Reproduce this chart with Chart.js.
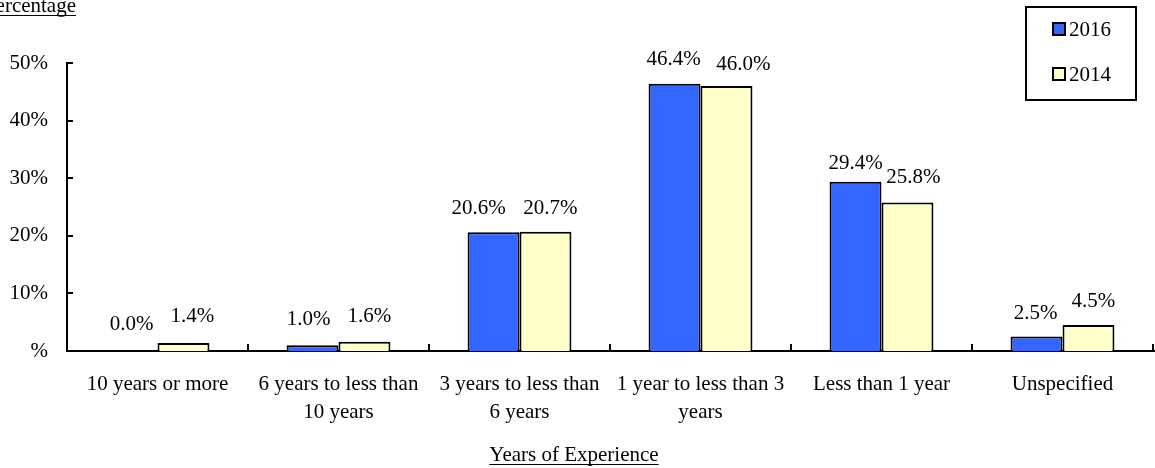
<!DOCTYPE html>
<html lang="en">
<head>
  <meta charset="UTF-8">
  <title>Years of Experience</title>
  <script src="https://cdn.jsdelivr.net/npm/chart.js@4.4.0/dist/chart.umd.min.js"></script>
  <style>
    html, body { margin: 0; padding: 0; background: #fff; }
    .wrap { width: 1155px; height: 468px; position: relative; }
  </style>
</head>
<body>
  <div class="wrap">
    <canvas id="chart" width="1155" height="468"></canvas>
  </div>
  <script>
    // data
    const categories = [
      '10 years or more',
      ['6 years to less than', '10 years'],
      ['3 years to less than', '6 years'],
      ['1 year to less than 3', 'years'],
      'Less than 1 year',
      'Unspecified'
    ];
    const series2016 = [0.0, 1.0, 20.6, 46.4, 29.4, 2.5];
    const series2014 = [1.4, 1.6, 20.7, 46.0, 25.8, 4.5];
    const yTicks = [0, 10, 20, 30, 40, 50];

    const FONT = "'Liberation Serif', 'Times New Roman', serif";
    const SIZE = 21;
    Chart.defaults.font.family = FONT;
    Chart.defaults.font.size = SIZE;
    Chart.defaults.color = '#000';

    // the value labels were hand-nudged in the original, [dx, dy] per bar
    const labelNudge = [
      [[0, -3], [-4, -2], [-15, 0], [-1, -1], [0, 5], [-1, 0]],
      [[9, -3], [5, -2], [5, 0], [17, 2], [6, -1], [5, 0]]
    ];

    // value labels, inward ticks, boxed legend and underlined titles
    const extras = {
      id: 'extras',
      afterDatasetsDraw(chart) {
        const ctx = chart.ctx;
        ctx.save();
        ctx.font = SIZE + 'px ' + FONT;
        ctx.fillStyle = '#000';
        ctx.textAlign = 'center';
        ctx.textBaseline = 'alphabetic';
        chart.data.datasets.forEach((ds, i) => {
          chart.getDatasetMeta(i).data.forEach((bar, j) => {
            const [dx, dy] = labelNudge[i][j];
            ctx.fillText(ds.data[j].toFixed(1) + '%', bar.x + dx, bar.y - 18 + dy);
          });
        });
        ctx.restore();
      },
      afterDraw(chart) {
        const ctx = chart.ctx;
        const area = chart.chartArea;
        const y = chart.scales.y;
        ctx.save();
        ctx.strokeStyle = '#000';
        ctx.lineWidth = 2;

        // y ticks pointing into the plot
        yTicks.forEach(v => {
          const py = Math.round(y.getPixelForValue(v));
          ctx.beginPath();
          ctx.moveTo(area.left, py);
          ctx.lineTo(area.left + 6, py);
          ctx.stroke();
        });
        // x ticks between categories
        const step = (area.right - area.left) / categories.length;
        for (let k = 1; k <= categories.length; k++) {
          const px = Math.round(area.left + k * step);
          ctx.beginPath();
          ctx.moveTo(px, area.bottom);
          ctx.lineTo(px, area.bottom - 7);
          ctx.stroke();
        }
        // extend x axis to the right edge
        ctx.beginPath();
        ctx.moveTo(area.right - 1, area.bottom);
        ctx.lineTo(chart.width, area.bottom);
        ctx.stroke();

        // legend
        ctx.strokeRect(1026, 7, 110, 93);
        ctx.font = SIZE + 'px ' + FONT;
        ctx.textAlign = 'left';
        ctx.textBaseline = 'alphabetic';
        chart.data.datasets.forEach((ds, i) => {
          const top = 23 + i * 45;
          ctx.fillStyle = ds.backgroundColor;
          ctx.fillRect(1053, top, 12, 12);
          ctx.lineWidth = 2;
          ctx.strokeRect(1053, top, 12, 12);
          ctx.fillStyle = '#000';
          ctx.fillText(ds.label, 1069, top + 13);
        });

        // axis titles, underlined
        ctx.lineWidth = 1;
        const underlined = (text, left, base) => {
          const w = ctx.measureText(text).width;
          ctx.textAlign = 'left';
          ctx.fillText(text, left, base);
          ctx.beginPath();
          ctx.moveTo(left, base + 3.5);
          ctx.lineTo(left + w, base + 3.5);
          ctx.stroke();
        };
        const pw = ctx.measureText('Percentage').width;
        underlined('Percentage', 76 - pw, 12);
        const xw = ctx.measureText('Years of Experience').width;
        underlined('Years of Experience', 574 - xw / 2, 461);
        ctx.restore();
      }
    };

    new Chart(document.getElementById('chart'), {
      type: 'bar',
      data: {
        labels: categories,
        datasets: [
          {
            label: '2016',
            data: series2016,
            backgroundColor: '#3366FF',
            borderColor: '#000',
            borderWidth: 2,
            borderSkipped: 'bottom'
          },
          {
            label: '2014',
            data: series2014,
            backgroundColor: '#FFFFCC',
            borderColor: '#000',
            borderWidth: 2,
            borderSkipped: 'bottom'
          }
        ]
      },
      options: {
        responsive: false,
        animation: false,
        layout: { padding: { top: 63, right: 2, left: 0, bottom: 0 } },
        datasets: {
          bar: { categoryPercentage: 0.574, barPercentage: 1.0 }
        },
        plugins: {
          legend: { display: false },
          tooltip: { enabled: false }
        },
        scales: {
          x: {
            grid: { display: false, drawTicks: false },
            border: { display: true, color: '#000', width: 2 },
            ticks: { padding: 20, maxRotation: 0, autoSkip: false, font: { size: SIZE, lineHeight: 1.33 } },
            afterFit(scale) { scale.height = 117; }
          },
          y: {
            min: 0,
            max: 50,
            grid: { display: false, drawTicks: false },
            border: { display: true, color: '#000', width: 2 },
            ticks: {
              stepSize: 10,
              padding: 19,
              callback: v => (v === 0 ? '%' : v + '%')
            },
            afterFit(scale) { scale.width = 67; }
          }
        }
      },
      plugins: [extras]
    });
  </script>
</body>
</html>
